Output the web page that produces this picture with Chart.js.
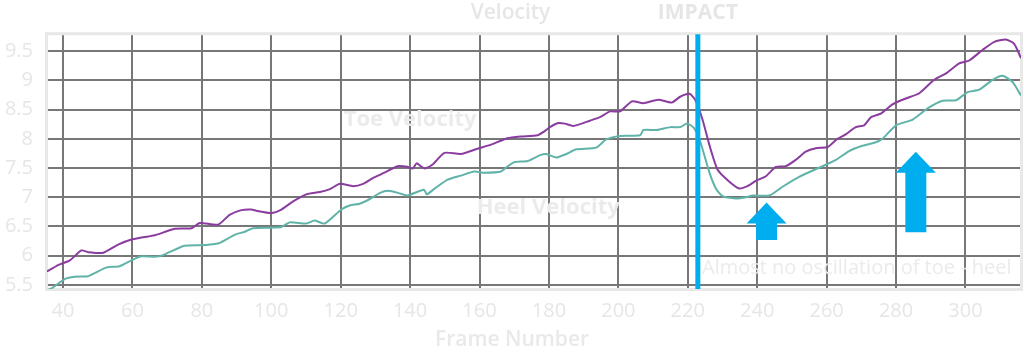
<!DOCTYPE html>
<html>
<head>
<meta charset="utf-8">
<script src="https://cdn.jsdelivr.net/npm/chart.js@4.4.0/dist/chart.umd.min.js"></script>
<style>
  html, body { margin: 0; padding: 0; background: #fff; }
  .chart { width: 1024px; height: 353px; }
</style>
</head>
<body>
<div class="chart"><canvas id="velocity-chart"></canvas></div>
<script>
// toe curve (frame / velocity)
const toeFrames = [35.4, 38.6, 42, 45.3, 47.3, 51.6, 55.9, 60, 64.6, 66.5, 72.2, 77, 79.4, 84.7, 88, 91.4, 94.3, 95.7,
  100, 102.9, 106.3, 110.1, 114, 116.9, 119.8, 123.6, 126.5, 129.4, 132.6, 136.4, 139.2, 140.7, 141.9, 143.1, 144.3,
  146.5, 149.9, 154.6, 159.4, 163.3, 168, 171.9, 176.7, 178.5, 180.3, 182.7, 184.6, 187, 191.8, 194.7, 197.6, 200.5,
  203.9, 207.2, 211.5, 215.4, 217.8, 220.5, 222.1, 224.2, 226.2, 228.6, 231.9, 234.8, 237.2, 239.6, 242.5, 245.4,
  248.2, 251.1, 254, 256.9, 260.3, 262.7, 265.6, 268.4, 270.8, 272.8, 275.6, 279, 282.8, 286.7, 291, 294.4, 298.2,
  301.1, 304.9, 308.3, 311.6, 314, 316];
const toeVelocity = [5.73, 5.84, 5.92, 6.09, 6.06, 6.05, 6.19, 6.28, 6.33, 6.35, 6.46, 6.47, 6.56, 6.53, 6.7, 6.78, 6.79, 6.77,
  6.73, 6.79, 6.93, 7.05, 7.09, 7.14, 7.23, 7.19, 7.23, 7.33, 7.42, 7.53, 7.52, 7.49, 7.58, 7.53, 7.49,
  7.56, 7.76, 7.74, 7.83, 7.9, 8.01, 8.04, 8.06, 8.12, 8.2, 8.27, 8.26, 8.22, 8.31, 8.37, 8.47, 8.47,
  8.64, 8.61, 8.67, 8.62, 8.72, 8.77, 8.67, 8.34, 7.9, 7.47, 7.27, 7.15, 7.19, 7.28, 7.36, 7.52,
  7.53, 7.64, 7.78, 7.84, 7.86, 7.98, 8.08, 8.2, 8.23, 8.37, 8.43, 8.59, 8.69, 8.78, 9.01, 9.12, 9.29,
  9.34, 9.52, 9.66, 9.7, 9.63, 9.38];

// heel curve
const heelFrames = [35.4, 36.7, 40.5, 43.4, 47.3, 49.1, 52.6, 56.3, 59.7, 62.6, 66.4, 68.8, 75, 80, 83.7, 85.2, 89.6, 92.4,
  94.7, 100, 102.9, 105.3, 110.1, 112.5, 115.4, 120.2, 122.6, 125.5, 128.4, 131.2, 133.6, 137.4, 139.2, 144, 144.8,
  146.9, 150.8, 154.6, 158.5, 161.4, 166.2, 168.1, 170, 173.9, 177.5, 179.2, 182.1, 185, 187.9, 193.6, 196.5, 200.5,
  206.3, 207.2, 211.1, 215, 217.8, 219.8, 221.7, 223.6, 226.2, 228.1, 230, 233.9, 236.8, 238.7, 243.5, 247.3, 252.1,
  258.8, 262.7, 266.5, 270.3, 274.2, 276.1, 280, 284.8, 289.1, 293.4, 297.3, 300.6, 304, 307.8, 310.7, 313.6, 316];
const heelVelocity = [5.41, 5.44, 5.6, 5.64, 5.65, 5.7, 5.8, 5.82, 5.92, 5.99, 5.98, 6.01, 6.17, 6.18, 6.2, 6.22, 6.36, 6.41,
  6.47, 6.48, 6.49, 6.57, 6.55, 6.6, 6.55, 6.79, 6.86, 6.89, 6.97, 7.07, 7.11, 7.06, 7.03, 7.13, 7.05,
  7.14, 7.3, 7.37, 7.44, 7.42, 7.44, 7.53, 7.6, 7.62, 7.72, 7.74, 7.68, 7.74, 7.82, 7.85, 7.99, 8.05,
  8.06, 8.15, 8.15, 8.2, 8.2, 8.26, 8.19, 7.95, 7.43, 7.15, 7.02, 6.98, 7.0, 7.03, 7.03, 7.18, 7.35,
  7.53, 7.64, 7.79, 7.88, 7.94, 8.0, 8.23, 8.33, 8.52, 8.65, 8.66, 8.8, 8.84, 9.01, 9.08, 8.97, 8.74];

const frameTicks = [40, 60, 80, 100, 120, 140, 160, 180, 200, 220, 240, 260, 280, 300];
const velocityTicks = [5.5, 6, 6.5, 7, 7.5, 8, 8.5, 9, 9.5];

const impactFrame = 222.9;
const arrowMarks = [
  { frame: 242.7, tip: 6.91, tail: 6.27 },
  { frame: 285.7, tip: 7.78, tail: 6.4 },
];
const notes = [
  { text: 'Toe Velocity', frame: 140, value: 8.32, bold: true, align: 'center' },
  { text: 'Heel Velocity', frame: 179.8, value: 6.82, bold: true, align: 'center' },
  { text: 'Almost no oscillation of toe - heel', frame: 224.1, value: 5.79, bold: false, align: 'left' },
];

const FONT = "'Open Sans', 'Noto Sans', sans-serif";
const BLUE = '#00aeef';
const FAINT = '#e6e6e6';

const toPoints = (frames, values) => frames.map((x, i) => ({ x, y: values[i] }));

const drawArrow = (ctx, x, tipY, tailY) => {
  const headHalf = 20;
  const shaftHalf = 10.5;
  const headHeight = 21;
  ctx.beginPath();
  ctx.moveTo(x, tipY);
  ctx.lineTo(x + headHalf, tipY + headHeight);
  ctx.lineTo(x + shaftHalf, tipY + headHeight);
  ctx.lineTo(x + shaftHalf, tailY);
  ctx.lineTo(x - shaftHalf, tailY);
  ctx.lineTo(x - shaftHalf, tipY + headHeight);
  ctx.lineTo(x - headHalf, tipY + headHeight);
  ctx.closePath();
  ctx.fill();
};

// light frame round the plot, blue impact line, arrows and the faint notes
const overlayPlugin = {
  id: 'overlay',
  beforeDatasetsDraw(chart) {
    const { ctx, chartArea } = chart;
    ctx.save();
    ctx.strokeStyle = '#e8e8e8';
    ctx.lineWidth = 3;
    ctx.strokeRect(chartArea.left - 0.5, chartArea.top - 0.5, chartArea.width + 1, chartArea.height + 1);
    ctx.restore();
  },
  afterDatasetsDraw(chart) {
    const { ctx, chartArea } = chart;
    const xScale = chart.scales.x;
    const yScale = chart.scales.y;
    ctx.save();

    const impactX = xScale.getPixelForValue(impactFrame);
    ctx.strokeStyle = BLUE;
    ctx.lineWidth = 5;
    ctx.beginPath();
    ctx.moveTo(impactX, chartArea.top);
    ctx.lineTo(impactX, chartArea.bottom);
    ctx.stroke();

    ctx.fillStyle = BLUE;
    arrowMarks.forEach((a) => {
      drawArrow(ctx, xScale.getPixelForValue(a.frame), yScale.getPixelForValue(a.tip), yScale.getPixelForValue(a.tail));
    });

    ctx.textBaseline = 'middle';
    ctx.fillStyle = '#ebebeb';
    notes.forEach((n) => {
      ctx.font = `${n.bold ? '700 22px' : '400 20px'} ${FONT}`;
      ctx.textAlign = n.align;
      ctx.fillText(n.text, xScale.getPixelForValue(n.frame), yScale.getPixelForValue(n.value));
    });

    ctx.font = `700 21px ${FONT}`;
    ctx.textAlign = 'center';
    ctx.fillStyle = FAINT;
    ctx.fillText('IMPACT', impactX, 13);

    // axis title sits centred on the page, not on the plot
    ctx.font = `600 21px ${FONT}`;
    ctx.fillStyle = '#e9e9e9';
    ctx.fillText('Frame Number', chart.width / 2, 340);
    ctx.restore();
  },
};

const canvas = document.getElementById('velocity-chart');
new Chart(canvas, {
  type: 'line',
  data: {
    datasets: [
      {
        label: 'Toe Velocity',
        data: toPoints(toeFrames, toeVelocity),
        borderColor: '#8a3c9f',
        borderWidth: 2,
        pointRadius: 0,
        tension: 0.2,
        fill: false,
      },
      {
        label: 'Heel Velocity',
        data: toPoints(heelFrames, heelVelocity),
        borderColor: '#5fb3a8',
        borderWidth: 2,
        pointRadius: 0,
        tension: 0.2,
        fill: false,
      },
    ],
  },
  options: {
    responsive: true,
    maintainAspectRatio: false,
    animation: false,
    layout: { padding: { left: 0, right: 3, top: 0, bottom: 0 } },
    plugins: {
      legend: { display: false },
      tooltip: { enabled: false },
      title: {
        display: true,
        text: 'Velocity',
        color: FAINT,
        font: { family: FONT, size: 21, weight: '600' },
        padding: { top: 0, bottom: 9 },
      },
    },
    scales: {
      x: {
        type: 'linear',
        min: 35.4,
        max: 316,
        afterBuildTicks: (scale) => { scale.ticks = frameTicks.map((value) => ({ value })); },
        afterFit: (scale) => { scale.height = 64; },
        grid: { color: '#777', lineWidth: 2, drawTicks: false },
        border: { display: false },
        ticks: {
          color: FAINT,
          font: { family: FONT, size: 20 },
          padding: 10,
          maxRotation: 0,
          autoSkip: false,
        },
      },
      y: {
        min: 5.43,
        max: 9.79,
        afterBuildTicks: (scale) => { scale.ticks = velocityTicks.map((value) => ({ value })); },
        afterFit: (scale) => { scale.width = 47; },
        grid: { color: '#777', lineWidth: 2, drawTicks: false },
        border: { display: false },
        ticks: {
          color: FAINT,
          font: { family: FONT, size: 20 },
          padding: 14,
          callback: (value) => String(value),
        },
      },
    },
  },
  plugins: [overlayPlugin],
});
</script>
</body>
</html>
